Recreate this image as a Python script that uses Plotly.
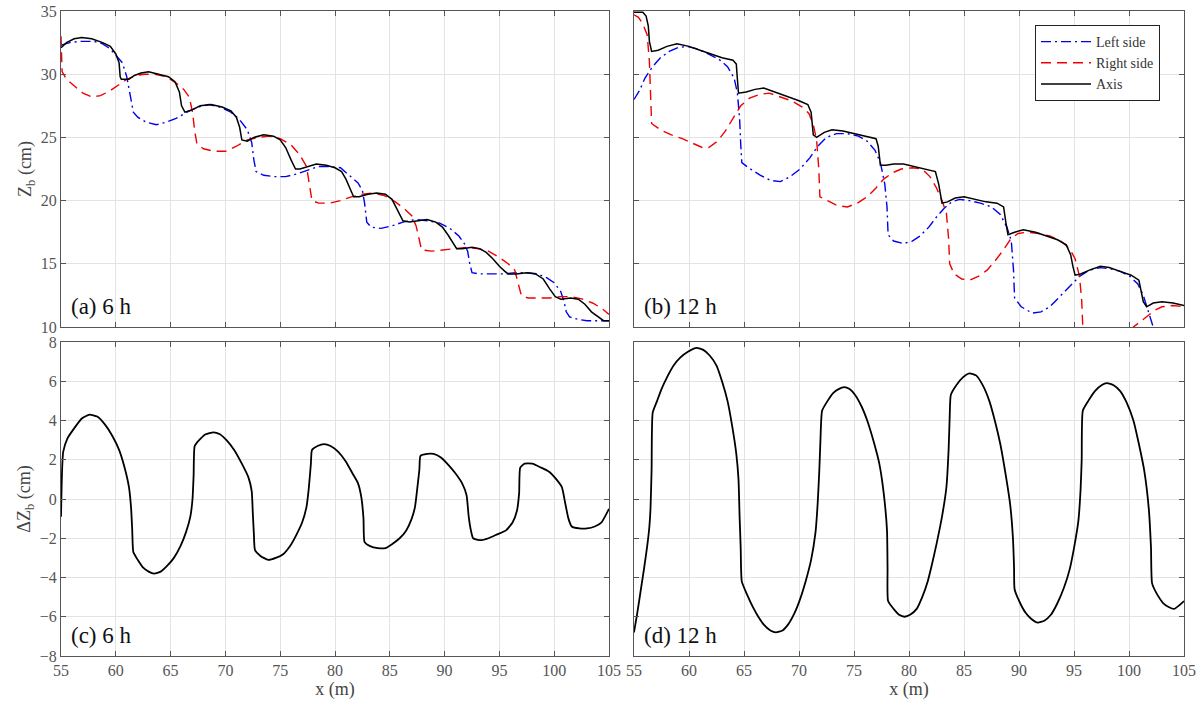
import plotly.graph_objects as go

# ---------------- Data ----------------
# Panel (a) 6 h : bed elevation Zb (cm)
a_axis_x = [55.0, 55.5, 56.2, 56.9, 57.8, 58.8, 59.5, 60.0, 60.3, 60.4, 60.5, 61.2, 61.7, 62.3, 63.0, 64.0, 64.8, 65.4, 65.8, 66.0, 66.3, 67.0, 67.7, 68.7, 69.7, 70.5, 71.0, 71.3, 71.5, 72.0, 72.6, 73.5, 74.4, 75.0, 75.5, 76.0, 76.4, 76.8, 77.5, 78.3, 79.2, 80.0, 80.6, 81.0, 81.4, 81.7, 82.2, 83.0, 83.8, 84.6, 85.2, 85.7, 86.2, 86.8, 87.6, 88.4, 89.2, 89.8, 90.3, 90.8, 91.1, 91.6, 92.5, 93.2, 93.8, 94.4, 95.0, 95.5, 95.8, 96.5, 97.5, 98.3, 99.0, 99.6, 100.1, 100.6, 101.5, 102.2, 102.8, 103.4, 104.0, 104.5, 105.0]
a_axis_y = [32.1, 32.5, 32.8, 32.9, 32.8, 32.5, 32.2, 31.6, 30.9, 29.8, 29.6, 29.6, 29.9, 30.1, 30.2, 30.0, 29.8, 29.4, 28.6, 27.5, 27.0, 27.2, 27.5, 27.6, 27.4, 27.1, 26.6, 25.8, 24.8, 24.7, 25.0, 25.2, 25.1, 24.8, 24.2, 23.2, 22.5, 22.5, 22.7, 22.9, 22.8, 22.6, 22.3, 21.7, 20.9, 20.3, 20.3, 20.5, 20.6, 20.5, 20.1, 19.3, 18.4, 18.3, 18.4, 18.5, 18.3, 17.9, 17.3, 16.6, 16.2, 16.2, 16.3, 16.2, 15.9, 15.4, 14.8, 14.4, 14.2, 14.2, 14.3, 14.2, 13.8, 13.0, 12.4, 12.2, 12.3, 12.2, 11.8, 11.2, 10.8, 10.5, 10.5]

a_left_x = [55.0, 55.8, 56.8, 58.0, 58.8, 59.5, 60.0, 60.6, 61.0, 61.3, 61.6, 62.0, 62.8, 63.7, 64.6, 65.5, 66.5, 67.5, 68.5, 69.5, 70.5, 71.3, 72.0, 72.4, 72.6, 72.8, 73.5, 74.5, 75.5, 76.5, 77.5, 78.5, 79.5, 80.5, 81.3, 82.1, 82.5, 82.7, 82.9, 83.3, 84.2, 85.2, 86.2, 87.3, 88.5, 89.6, 90.5, 91.3, 91.8, 92.1, 92.3, 92.5, 93.2, 94.5, 95.5, 96.5, 97.5, 98.5, 99.3, 100.0, 100.6, 100.9, 101.1, 101.4, 102.2, 103.0, 104.0, 105.0]
a_left_y = [32.3, 32.5, 32.6, 32.6, 32.4, 32.0, 31.5, 30.9, 29.8, 28.3, 27.0, 26.6, 26.2, 26.0, 26.2, 26.5, 27.0, 27.4, 27.6, 27.4, 27.0, 26.4, 25.6, 24.6, 23.2, 22.3, 22.0, 21.9, 21.9, 22.1, 22.4, 22.7, 22.7, 22.6, 22.0, 21.4, 20.8, 19.8, 18.3, 17.9, 17.8, 18.0, 18.3, 18.5, 18.4, 18.2, 17.8, 17.2, 16.6, 16.0, 15.0, 14.3, 14.2, 14.2, 14.2, 14.3, 14.3, 14.2, 13.9, 13.5, 12.8, 12.0, 11.2, 10.8, 10.6, 10.5, 10.5, 10.5]

a_right_x = [55.0, 55.05, 55.1, 55.5, 56.2, 57.0, 57.8, 58.6, 59.5, 60.3, 61.0, 61.8, 62.6, 63.6, 64.6, 65.5, 66.2, 66.7, 67.0, 67.2, 67.4, 68.0, 69.0, 70.0, 71.0, 72.0, 73.0, 74.0, 75.0, 76.0, 76.8, 77.4, 77.7, 77.9, 78.5, 79.5, 80.5, 81.5, 82.5, 83.5, 84.5, 85.5, 86.4, 87.0, 87.4, 87.7, 87.9, 88.8, 90.0, 91.0, 92.0, 93.0, 94.0, 95.0, 95.8, 96.4, 96.7, 97.0, 97.6, 98.6, 99.6, 100.6, 101.6, 102.6, 103.5, 104.3, 105.0]
a_right_y = [33.0, 31.5, 30.2, 29.6, 29.1, 28.5, 28.2, 28.3, 28.7, 29.2, 29.6, 29.9, 30.0, 30.0, 29.8, 29.3, 28.8, 28.2, 27.0, 25.5, 24.5, 24.1, 23.9, 23.9, 24.3, 24.8, 25.0, 25.1, 24.9, 24.4, 23.6, 22.7, 21.2, 20.0, 19.8, 19.8, 20.0, 20.3, 20.5, 20.6, 20.4, 19.9, 19.3, 18.8, 18.0, 16.7, 16.1, 16.0, 16.1, 16.2, 16.3, 16.2, 16.0, 15.5, 15.0, 14.5, 13.5, 12.5, 12.3, 12.3, 12.3, 12.4, 12.4, 12.2, 11.9, 11.5, 11.0]

# Panel (b) 12 h : bed elevation Zb (cm)
b_axis_x = [55.0, 55.8, 56.1, 56.3, 56.4, 56.6, 57.2, 58.0, 58.9, 60.0, 61.0, 62.0, 63.0, 64.0, 64.3, 64.4, 64.5, 65.2, 66.0, 66.8, 67.8, 69.0, 70.0, 70.8, 71.1, 71.3, 71.6, 72.3, 73.0, 74.0, 75.0, 76.0, 77.0, 77.2, 77.4, 77.9, 78.6, 79.5, 80.5, 81.5, 82.4, 82.7, 83.0, 83.5, 84.2, 85.0, 86.0, 87.0, 88.0, 88.6, 88.8, 89.0, 89.6, 90.4, 91.5, 92.5, 93.5, 94.3, 94.7, 94.9, 95.1, 95.6, 96.4, 97.4, 98.2, 99.2, 100.2, 100.9, 101.1, 101.3, 101.6, 102.2, 103.0, 104.0, 105.0]
b_axis_y = [34.9, 34.9, 34.6, 33.8, 32.6, 31.8, 31.9, 32.2, 32.4, 32.2, 31.9, 31.6, 31.3, 31.1, 30.8, 29.6, 28.5, 28.6, 28.8, 28.9, 28.6, 28.2, 27.9, 27.6, 27.0, 25.2, 25.0, 25.4, 25.6, 25.5, 25.3, 25.1, 24.9, 24.3, 22.8, 22.8, 22.9, 22.9, 22.7, 22.5, 22.3, 21.3, 19.8, 19.9, 20.2, 20.3, 20.1, 19.9, 19.8, 19.5, 18.3, 17.3, 17.5, 17.7, 17.5, 17.2, 16.9, 16.5, 15.7, 14.8, 14.1, 14.2, 14.5, 14.8, 14.7, 14.4, 14.1, 13.7, 12.9, 12.0, 11.6, 11.9, 12.0, 11.9, 11.7]

b_left_x = [55.0, 55.5, 56.0, 56.7, 57.4, 58.2, 59.0, 59.8, 60.8, 61.8, 62.7, 63.5, 64.1, 64.4, 64.6, 64.7, 64.8, 65.4, 66.5, 67.4, 68.3, 69.2, 70.1, 71.0, 71.7, 72.5, 73.4, 74.4, 75.4, 76.2, 76.9, 77.4, 77.8, 78.0, 78.1, 78.6, 79.5, 80.3, 81.0, 81.8, 82.5, 83.2, 83.9, 84.6, 85.5, 86.5, 87.5, 88.3, 88.9, 89.3, 89.5, 89.6, 90.2, 91.2, 92.0, 92.8, 93.7, 94.6, 95.5, 96.4, 97.4, 98.3, 99.2, 100.1, 100.8, 101.3, 101.6, 101.9, 102.2, 102.6, 103.5]
b_left_y = [28.0, 28.7, 29.7, 30.6, 31.3, 31.8, 32.1, 32.2, 32.0, 31.6, 31.2, 30.6, 29.7, 28.5, 26.5, 24.5, 23.0, 22.6, 22.0, 21.6, 21.5, 21.9, 22.5, 23.4, 24.3, 25.0, 25.3, 25.3, 25.1, 24.7, 24.0, 23.0, 21.3, 19.5, 17.3, 16.8, 16.6, 16.8, 17.2, 17.9, 18.7, 19.4, 19.9, 20.1, 20.0, 19.8, 19.5, 18.9, 17.9, 16.8, 14.5, 12.3, 11.6, 11.1, 11.2, 11.6, 12.4, 13.2, 14.0, 14.5, 14.7, 14.6, 14.4, 14.0, 13.4, 12.5, 11.6, 10.8, 10.0, 9.2, 8.8]

b_right_x = [55.0, 55.4, 55.8, 56.2, 56.4, 56.5, 56.6, 57.4, 58.4, 59.4, 60.4, 61.2, 61.8, 62.6, 63.3, 64.0, 64.7, 65.5, 66.4, 67.3, 68.3, 69.3, 70.3, 70.9, 71.3, 71.6, 71.8, 71.9, 72.6, 73.5, 74.4, 75.3, 76.2, 77.0, 77.7, 78.5, 79.3, 80.3, 81.2, 81.9, 82.5, 83.0, 83.4, 83.6, 83.7, 84.1, 84.8, 85.5, 86.3, 87.1, 87.8, 88.5, 89.2, 89.9, 90.8, 91.8, 92.8, 93.8, 94.6, 95.1, 95.5, 95.7, 95.8, 96.0, 97.0, 98.5, 99.8, 100.4, 101.0, 101.6, 102.3, 103.0, 104.0, 105.0]
b_right_y = [34.7, 34.5, 34.0, 33.1, 31.0, 28.5, 26.1, 25.6, 25.2, 24.9, 24.5, 24.2, 24.2, 24.7, 25.5, 26.5, 27.5, 28.1, 28.4, 28.5, 28.2, 27.9, 27.4, 26.9, 26.0, 24.8, 22.5, 20.3, 20.0, 19.6, 19.5, 19.8, 20.3, 21.0, 21.7, 22.2, 22.5, 22.6, 22.5, 21.9, 21.0, 20.0, 19.0, 17.0, 15.0, 14.2, 13.8, 13.7, 14.0, 14.5, 15.2, 16.0, 16.9, 17.4, 17.5, 17.4, 17.2, 16.8, 16.2, 15.4, 14.0, 12.1, 10.0, 8.5, 7.5, 7.8, 9.0, 10.0, 10.4, 10.8, 11.3, 11.6, 11.7, 11.6]

# Panel (c) 6 h : Delta Zb (cm)
c_x = [55.0, 55.05, 55.1, 55.2, 55.6, 56.2, 56.9, 57.6, 58.3, 59.0, 59.7, 60.3, 60.8, 61.2, 61.4, 61.5, 61.6, 62.0, 62.5, 63.0, 63.5, 64.1, 64.7, 65.3, 65.9, 66.4, 66.8, 67.0, 67.1, 67.2, 67.6, 68.2, 68.9, 69.5, 70.1, 70.8, 71.5, 72.1, 72.4, 72.5, 72.6, 72.7, 73.2, 73.9, 74.6, 75.3, 75.9, 76.5, 77.0, 77.4, 77.6, 77.8, 77.9, 78.4, 79.0, 79.6, 80.3, 81.0, 81.6, 82.1, 82.4, 82.6, 82.7, 83.2, 83.9, 84.6, 85.2, 85.9, 86.5, 87.0, 87.3, 87.5, 87.7, 87.8, 88.4, 89.0, 89.7, 90.4, 91.0, 91.6, 92.0, 92.2, 92.4, 92.6, 93.3, 94.0, 94.8, 95.6, 96.2, 96.6, 96.8, 96.9, 97.3, 98.0, 98.8, 99.5, 100.2, 100.7, 101.0, 101.3, 101.6, 102.3, 103.0, 103.7, 104.3, 105.0]
c_y = [-0.9, 0.5, 1.5, 2.4, 3.1, 3.6, 4.1, 4.3, 4.2, 3.8, 3.2, 2.5, 1.6, 0.6, -0.5, -1.6, -2.7, -3.1, -3.5, -3.7, -3.8, -3.7, -3.4, -3.0, -2.4, -1.7, -0.9, 0.0, 1.2, 2.7, 3.0, 3.3, 3.4, 3.3, 3.0, 2.5, 1.8, 1.1, 0.4, -0.7, -1.8, -2.6, -2.9, -3.1, -3.0, -2.8, -2.4, -1.8, -1.2, -0.4, 0.5, 1.8, 2.5, 2.7, 2.8, 2.7, 2.4, 1.9, 1.3, 0.8, 0.1, -1.0, -2.2, -2.4, -2.5, -2.5, -2.3, -2.0, -1.6, -1.0, -0.4, 0.5, 1.5, 2.2, 2.3, 2.3, 2.1, 1.7, 1.3, 0.8, 0.2, -0.9, -1.6, -2.0, -2.1, -2.0, -1.8, -1.6, -1.2, -0.6, 0.3, 1.6, 1.8, 1.8, 1.6, 1.4, 1.0, 0.6, -0.2, -1.0, -1.4, -1.5, -1.5, -1.4, -1.2, -0.5]

# Panel (d) 12 h : Delta Zb (cm)
d_x = [55.0, 55.3, 55.6, 55.9, 56.2, 56.4, 56.5, 56.6, 56.7, 57.1, 57.5, 58.0, 58.6, 59.2, 59.9, 60.7, 61.3, 61.9, 62.5, 63.0, 63.5, 63.9, 64.3, 64.5, 64.6, 64.7, 64.8, 65.3, 65.8, 66.3, 66.8, 67.4, 67.9, 68.5, 69.0, 69.6, 70.1, 70.6, 71.1, 71.5, 71.7, 71.85, 71.95, 72.1, 72.6, 73.1, 73.6, 74.1, 74.6, 75.1, 75.7, 76.2, 76.8, 77.3, 77.7, 78.0, 78.05, 78.1, 78.6, 79.1, 79.6, 80.1, 80.7, 81.2, 81.7, 82.1, 82.5, 83.0, 83.4, 83.6, 83.7, 83.8, 84.3, 84.9, 85.5, 86.1, 86.7, 87.3, 87.8, 88.3, 88.8, 89.2, 89.45, 89.55, 89.6, 90.1, 90.6, 91.1, 91.7, 92.3, 92.9, 93.5, 94.1, 94.6, 95.0, 95.4, 95.6, 95.7, 95.8, 96.3, 96.9, 97.5, 98.0, 98.6, 99.2, 99.8, 100.4, 100.9, 101.4, 101.8, 102.0, 102.1, 102.6, 103.1, 103.6, 104.1, 104.6, 105.0]
d_y = [-6.8, -5.8, -4.7, -3.6, -2.4, -1.4, -0.5, 1.5, 4.4, 5.0, 5.6, 6.2, 6.8, 7.2, 7.5, 7.7, 7.6, 7.3, 6.8, 6.0, 5.0, 3.8, 2.3, 1.0, -0.9, -2.5, -4.2, -4.9, -5.5, -6.0, -6.4, -6.7, -6.8, -6.7, -6.4, -5.8, -5.1, -4.2, -3.1, -1.7, -0.2, 1.5, 3.0, 4.5, 5.0, 5.4, 5.6, 5.7, 5.6, 5.3, 4.7, 4.0, 2.9, 1.8, 0.3, -1.6, -3.5, -5.2, -5.6, -5.9, -6.0, -5.9, -5.6, -5.0, -4.2, -3.3, -2.3, -0.9, 0.6, 2.5, 4.2, 5.3, 5.8, 6.2, 6.4, 6.3, 5.8, 5.0, 4.0, 2.8, 1.2, -0.3, -2.0, -3.5, -4.6, -5.3, -5.8, -6.1, -6.3, -6.2, -5.9, -5.3, -4.5, -3.6, -2.5, -1.1, 0.5, 2.0, 4.5, 5.0, 5.5, 5.8, 5.9, 5.8, 5.5, 4.9, 4.0, 2.8, 1.4, -0.5, -2.5, -4.3, -4.9, -5.3, -5.5, -5.6, -5.4, -5.2]

x_ticks = [55, 60, 65, 70, 75, 80, 85, 90, 95, 100, 105]
zb_ticks = [10, 15, 20, 25, 30, 35]
dzb_ticks = [-8, -6, -4, -2, 0, 2, 4, 6, 8]
series_names = ["Left side", "Right side", "Axis"]
panel_labels = ["(a) 6 h", "(b) 12 h", "(c) 6 h", "(d) 12 h"]

# ---------------- Figure ----------------
SERIF = "Liberation Serif, Times New Roman, Times, serif"
BLUE = "#0000ee"
RED = "#ee0000"
fig = go.Figure()

def add_zb(xa, ya, xl, yl, xr, yr, xaxis, yaxis, show):
    fig.add_trace(go.Scatter(x=xl, y=yl, mode="lines", name=series_names[0],
                             line=dict(color=BLUE, width=1.4, dash="10px,4px,2px,4px"),
                             xaxis=xaxis, yaxis=yaxis, showlegend=show, legendrank=1))
    fig.add_trace(go.Scatter(x=xr, y=yr, mode="lines", name=series_names[1],
                             line=dict(color=RED, width=1.4, dash="10px,6px"),
                             xaxis=xaxis, yaxis=yaxis, showlegend=show, legendrank=2))
    fig.add_trace(go.Scatter(x=xa, y=ya, mode="lines", name=series_names[2],
                             line=dict(color="black", width=1.5),
                             xaxis=xaxis, yaxis=yaxis, showlegend=show, legendrank=3))

add_zb(a_axis_x, a_axis_y, a_left_x, a_left_y, a_right_x, a_right_y, "x", "y", False)
add_zb(b_axis_x, b_axis_y, b_left_x, b_left_y, b_right_x, b_right_y, "x2", "y2", True)
fig.add_trace(go.Scatter(x=c_x, y=c_y, mode="lines",
                         line=dict(color="black", width=1.8, shape="spline", smoothing=0.5),
                         xaxis="x3", yaxis="y3", showlegend=False))
fig.add_trace(go.Scatter(x=d_x, y=d_y, mode="lines",
                         line=dict(color="black", width=1.8, shape="spline", smoothing=0.5),
                         xaxis="x4", yaxis="y4", showlegend=False))

W, H = 1201, 706
xl_dom = [61 / W, 609 / W]
xr_dom = [634 / W, 1184 / W]
yt_dom = [(H - 327) / H, (H - 11) / H]
yb_dom = [(H - 656) / H, (H - 342) / H]

ax_common = dict(showline=True, linecolor="#555555", linewidth=1, mirror="ticks",
                 ticks="inside", ticklen=5, tickcolor="#555555", automargin=False,
                 showgrid=True, gridcolor="#e3e3e3", gridwidth=1, zeroline=False,
                 tickfont=dict(family=SERIF, size=16, color="#555555"))

def xax(dom, anchor, labels, title=None):
    d = dict(ax_common, domain=dom, anchor=anchor, range=[55, 105], tickvals=x_ticks,
             showticklabels=labels)
    if title:
        d["title"] = dict(text=title, font=dict(family=SERIF, size=18, color="#444444"), standoff=0)
    return d

def yax(dom, anchor, rng, ticks, labels, title=None):
    d = dict(ax_common, domain=dom, anchor=anchor, range=rng, tickvals=ticks,
             showticklabels=labels)
    if title:
        d["title"] = dict(text=title, font=dict(family=SERIF, size=18, color="#444444"), standoff=4)
    return d

fig.update_layout(
    width=W, height=H,
    margin=dict(l=0, r=0, t=0, b=0, autoexpand=False),
    paper_bgcolor="white", plot_bgcolor="white",
    font=dict(family=SERIF),
    xaxis=xax(xl_dom, "y", False),
    yaxis=yax(yt_dom, "x", [10, 35], zb_ticks, True, "Z<sub>b</sub> (cm)"),
    xaxis2=xax(xr_dom, "y2", False),
    yaxis2=yax(yt_dom, "x2", [10, 35], zb_ticks, False),
    xaxis3=xax(xl_dom, "y3", True, "x (m)"),
    yaxis3=yax(yb_dom, "x3", [-8, 8], dzb_ticks, True, "ΔZ<sub>b</sub> (cm)"),
    xaxis4=xax(xr_dom, "y4", True, "x (m)"),
    yaxis4=yax(yb_dom, "x4", [-8, 8], dzb_ticks, False),
    legend=dict(x=1035 / W, y=(H - 25) / H, xanchor="left", yanchor="top",
                bgcolor="white", bordercolor="#222222", borderwidth=1,
                font=dict(family=SERIF, size=14, color="#333333"),
                tracegroupgap=0, itemwidth=50),
    showlegend=True,
)

for lbl, xr_, yr_ in zip(panel_labels, ["x", "x2", "x3", "x4"], ["y", "y2", "y3", "y4"]):
    fig.add_annotation(text=lbl, xref=f"{xr_} domain", yref=f"{yr_} domain",
                       x=0.015, y=0.02, xanchor="left", yanchor="bottom", showarrow=False,
                       font=dict(family=SERIF, size=23, color="#111111"))

fig.write_html("out.html", config={"displayModeBar": False},
               post_script="document.body.style.margin='0';document.body.style.overflow='hidden';")
